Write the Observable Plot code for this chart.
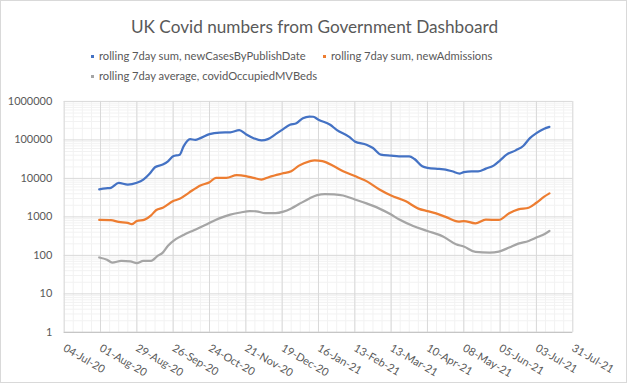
<!DOCTYPE html>
<html>
<head>
<meta charset="utf-8">
<script src="https://cdn.jsdelivr.net/npm/d3@7"></script>
<script src="https://cdn.jsdelivr.net/npm/@observablehq/plot@0.6"></script>
<style>
  html, body { margin: 0; padding: 0; background: #fff; }
  #chart { position: relative; width: 627px; height: 383px; border: 1px solid #D9D9D9; box-sizing: border-box; font-family: Lato, sans-serif; color: #595959; overflow: visible; }
  #title { position: absolute; left: 0; width: 627px; top: 13px; text-align: center; font-size: 17.2px; line-height: 26px; }
  .leg { position: absolute; font-size: 11.2px; line-height: 14px; white-space: nowrap; }
  .leg i { display: inline-block; width: 3px; height: 3px; margin-right: 5px; vertical-align: middle; position: relative; top: -1px; }
  #plot { position: absolute; left: -1px; top: 87px; }
</style>
</head>
<body>
<div id="chart">
  <div id="title">UK Covid numbers from Government Dashboard</div>
  <div class="leg" style="left:90px;top:48px"><i style="background:#4472C4"></i>rolling 7day sum, newCasesByPublishDate</div>
  <div class="leg" style="left:322px;top:48px"><i style="background:#ED7D31"></i>rolling 7day sum, newAdmissions</div>
  <div class="leg" style="left:90px;top:68px"><i style="background:#A5A5A5"></i>rolling 7day average, covidOccupiedMVBeds</div>
  <div id="plot"></div>
</div>
<script>
const casesDates = ["2020-07-31","2020-08-05","2020-08-09","2020-08-15","2020-08-22","2020-08-29","2020-09-03","2020-09-08","2020-09-12","2020-09-18","2020-09-22","2020-09-26","2020-10-01","2020-10-04","2020-10-09","2020-10-13","2020-10-17","2020-10-24","2020-11-01","2020-11-09","2020-11-16","2020-11-21","2020-11-27","2020-12-03","2020-12-08","2020-12-14","2020-12-19","2020-12-25","2020-12-30","2021-01-04","2021-01-09","2021-01-12","2021-01-16","2021-01-25","2021-01-30","2021-02-09","2021-02-13","2021-02-22","2021-02-27","2021-03-05","2021-03-13","2021-03-19","2021-03-27","2021-03-31","2021-04-06","2021-04-10","2021-04-19","2021-04-24","2021-04-29","2021-05-05","2021-05-08","2021-05-14","2021-05-19","2021-05-25","2021-05-31","2021-06-05","2021-06-10","2021-06-17","2021-06-23","2021-06-28","2021-07-03","2021-07-09","2021-07-13"];
const casesValues = [5200,5500,5700,7600,6900,7700,9300,13400,19500,22900,27800,37500,41400,68000,105000,100000,111000,141000,155000,157000,179000,141000,111000,97000,105000,141000,183000,247000,272000,366000,405000,400000,335000,247000,183000,118000,91500,75100,61500,41400,39000,37500,37500,31900,20600,18700,17600,17000,15300,13400,14500,15300,15300,18000,21500,29500,41400,53500,70700,111000,150000,195000,219000];

const admDates = ["2020-07-31","2020-08-09","2020-08-15","2020-08-22","2020-08-25","2020-08-29","2020-09-04","2020-09-09","2020-09-13","2020-09-18","2020-09-26","2020-10-01","2020-10-08","2020-10-17","2020-10-24","2020-10-29","2020-11-06","2020-11-14","2020-11-21","2020-11-27","2020-12-03","2020-12-09","2020-12-19","2020-12-26","2021-01-01","2021-01-09","2021-01-13","2021-01-19","2021-01-28","2021-02-04","2021-02-13","2021-02-22","2021-03-04","2021-03-13","2021-03-24","2021-04-03","2021-04-10","2021-04-16","2021-04-24","2021-05-04","2021-05-08","2021-05-17","2021-05-25","2021-06-04","2021-06-12","2021-06-19","2021-06-27","2021-07-03","2021-07-09","2021-07-13"];
const admValues = [830,820,740,700,645,780,850,1100,1510,1730,2570,2950,4220,6550,7990,10300,10300,12100,11500,10300,9350,10900,13400,15300,21500,27800,29500,28000,20600,15300,11500,8500,5170,3600,2570,1640,1410,1250,1000,755,780,680,850,830,1250,1570,1730,2330,3350,4080];

const bedsDates = ["2020-07-31","2020-08-06","2020-08-10","2020-08-17","2020-08-24","2020-08-29","2020-09-03","2020-09-09","2020-09-14","2020-09-18","2020-09-22","2020-09-28","2020-10-04","2020-10-12","2020-10-22","2020-10-31","2020-11-09","2020-11-17","2020-11-24","2020-11-29","2020-12-06","2020-12-14","2020-12-20","2020-12-26","2021-01-01","2021-01-09","2021-01-15","2021-01-21","2021-01-28","2021-02-04","2021-02-13","2021-02-22","2021-03-04","2021-03-13","2021-03-19","2021-03-30","2021-04-10","2021-04-22","2021-05-02","2021-05-08","2021-05-17","2021-05-28","2021-06-04","2021-06-12","2021-06-19","2021-06-27","2021-07-03","2021-07-09","2021-07-13"];
const bedsValues = [88,77,65,72,70,63,72,72,97,118,177,263,340,450,643,900,1150,1300,1410,1400,1250,1250,1370,1660,2150,3000,3680,3900,3850,3600,2840,2240,1640,1150,865,580,430,310,195,170,123,118,125,160,202,237,290,355,430];

const seriesNames = ["rolling 7day sum, newCasesByPublishDate","rolling 7day sum, newAdmissions","rolling 7day average, covidOccupiedMVBeds"];
const seriesColors = ["#4472C4","#ED7D31","#A5A5A5"];

const startDate = new Date(Date.UTC(2020, 6, 4));
const endDate = new Date(Date.UTC(2021, 6, 31));
const xTicks = d3.range(15).map(i => new Date(Date.UTC(2020, 6, 4 + 28 * i)));
const xMinor = d3.range(57).map(i => new Date(Date.UTC(2020, 6, 4 + 7 * i)));
const yTicks = [1, 10, 100, 1000, 10000, 100000, 1000000];
const yMinor = yTicks.slice(0, -1).flatMap(p => d3.range(2, 10).map(k => k * p));

const parse = d3.utcParse("%Y-%m-%d");
const mk = (dates, values, name) => dates.map((d, i) => ({date: parse(d), value: values[i], series: name}));
const data = [
  ...mk(casesDates, casesValues, seriesNames[0]),
  ...mk(admDates, admValues, seriesNames[1]),
  ...mk(bedsDates, bedsValues, seriesNames[2])
];

const chart = Plot.plot({
  width: 629,
  height: 297,
  marginTop: 13,
  marginLeft: 64,
  marginRight: 54,
  marginBottom: 52,
  style: {fontFamily: "Lato, sans-serif", fontSize: "11px", color: "#595959", background: "transparent", overflow: "visible"},
  x: {type: "utc", domain: [startDate, endDate], ticks: xTicks, tickFormat: d3.utcFormat("%d-%b-%y"), tickRotate: 30, tickSize: 0, tickPadding: 15, label: null},
  y: {type: "log", domain: [1, 1000000], ticks: yTicks, tickFormat: d => String(d), tickSize: 0, tickPadding: 12, label: null},
  color: {domain: seriesNames, range: seriesColors},
  marks: [
    Plot.ruleX(xMinor, {stroke: "#F2F2F2", strokeWidth: 1}),
    Plot.ruleY(yMinor, {stroke: "#F2F2F2", strokeWidth: 1}),
    Plot.ruleX(xTicks, {stroke: "#D9D9D9", strokeWidth: 1}),
    Plot.ruleY(yTicks, {stroke: "#D9D9D9", strokeWidth: 1}),
    Plot.ruleY([1], {stroke: "#BFBFBF", strokeWidth: 1}),
    Plot.line(data, {x: "date", y: "value", z: "series", stroke: "series", strokeWidth: 2.25, curve: "monotone-x"})
  ]
});
document.getElementById("plot").appendChild(chart);
</script>
</body>
</html>
